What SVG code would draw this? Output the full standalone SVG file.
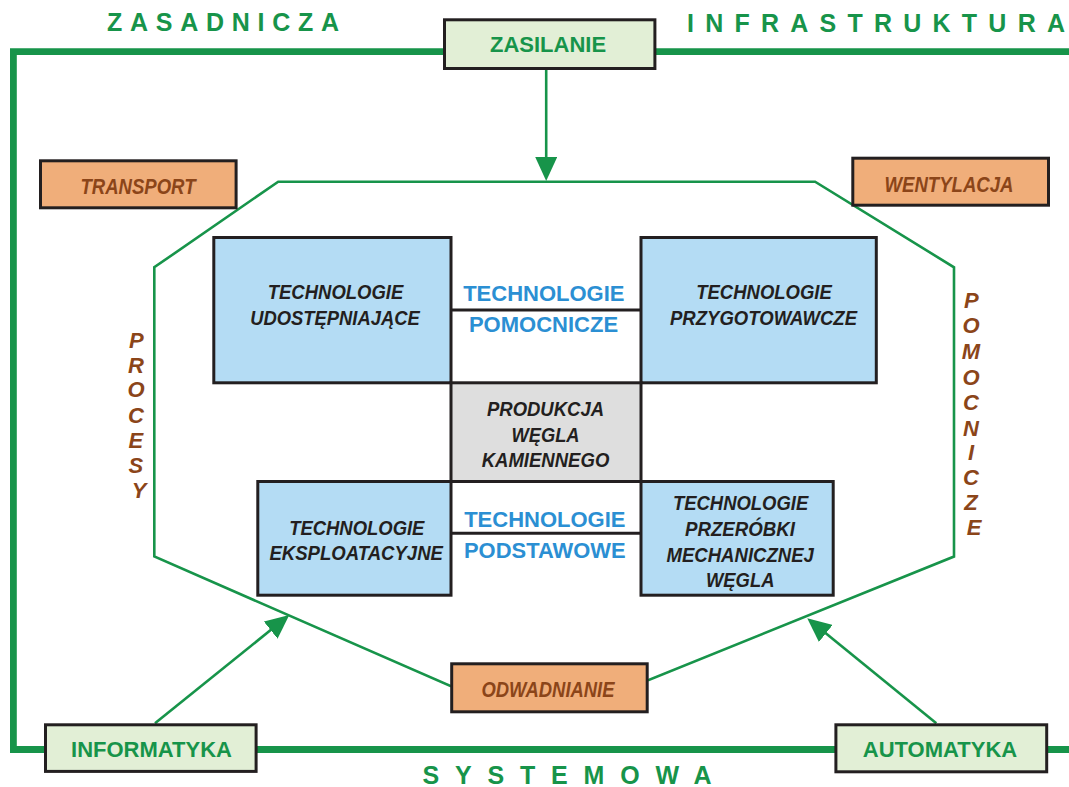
<svg xmlns="http://www.w3.org/2000/svg" width="1069" height="787" viewBox="0 0 1069 787">
  <style>
    .frame { fill: none; stroke: #17944a; stroke-width: 6.8; }
    .oct { fill: none; stroke: #17944a; stroke-width: 2.6; stroke-linejoin: miter; }
    .arrow { fill: none; stroke: #17944a; stroke-width: 2.6; }
    .box { stroke: #231f20; stroke-width: 3; }
    .green { fill: #e2efd6; }
    .orange { fill: #f0ae7a; }
    .blue { fill: #b4dcf4; }
    .grey { fill: #dedede; }
    .link { stroke: #231f20; stroke-width: 3; }
    text { font-family: "Liberation Sans", Arial, sans-serif; font-weight: bold; }
    .spaced { fill: #17944a; font-size: 25px; }
    .glab { fill: #17944a; font-size: 22px; text-anchor: middle; }
    .olab { fill: #8b4519; font-size: 22px; font-style: italic; text-anchor: middle; }
    .tlab { fill: #231f20; font-size: 20.5px; font-style: italic; text-anchor: middle; }
    .blab { fill: #2b8fd3; font-size: 22px; text-anchor: middle; }
    .vlab { fill: #8b4519; font-size: 22px; font-style: italic; text-anchor: middle; }
  </style>
  <defs>
    <marker id="head" viewBox="0 0 24 22" refX="10" refY="11" markerWidth="24" markerHeight="22" markerUnits="userSpaceOnUse" orient="auto">
      <path d="M0,0 L24,11 L0,22 Z" fill="#17944a"/>
    </marker>
  </defs>

  <rect width="1069" height="787" fill="#ffffff"/>

  <!-- infrastructure frame -->
  <path class="frame" d="M1069,51.7 H13.4 V749.5 H1069"/>
  <text class="spaced" x="107" y="31" textLength="232" lengthAdjust="spacing">ZASADNICZA</text>
  <text class="spaced" x="687" y="32" textLength="378" lengthAdjust="spacing">INFRASTRUKTURA</text>
  <text class="spaced" x="422.5" y="784" textLength="289" lengthAdjust="spacing">SYSTEMOWA</text>

  <!-- auxiliary processes outline -->
  <polygon class="oct" points="278.2,181.7 815.1,181.7 954,267.3 954,556.5 648.8,680 450.4,686 154.3,556.5 154.3,267.3"/>
  <text class="vlab">
    <tspan x="139" y="348.3">P</tspan>
    <tspan x="139" y="372.7">R</tspan>
    <tspan x="139" y="397">O</tspan>
    <tspan x="139" y="422.7">C</tspan>
    <tspan x="139" y="447.7">E</tspan>
    <tspan x="139" y="473.3">S</tspan>
    <tspan x="139" y="498.3">Y</tspan>
  </text>
  <text class="vlab">
    <tspan x="974" y="308.3">P</tspan>
    <tspan x="974" y="333">O</tspan>
    <tspan x="974" y="359">M</tspan>
    <tspan x="974" y="385">O</tspan>
    <tspan x="974" y="410">C</tspan>
    <tspan x="974" y="435.7">N</tspan>
    <tspan x="974" y="459.5">I</tspan>
    <tspan x="974" y="485">C</tspan>
    <tspan x="974" y="510">Z</tspan>
    <tspan x="974" y="535">E</tspan>
  </text>

  <!-- connectors -->
  <g id="connectors">
    <line class="arrow" x1="546.2" y1="70" x2="546.2" y2="167" marker-end="url(#head)"/>
    <line class="arrow" x1="155" y1="723.3" x2="278.4" y2="623.8" marker-end="url(#head)"/>
    <line class="arrow" x1="936.3" y1="723.3" x2="818.1" y2="627.1" marker-end="url(#head)"/>
    <line class="link" x1="451" y1="310" x2="641" y2="310"/>
    <line class="link" x1="451" y1="533.3" x2="641" y2="533.3"/>
  </g>

  <!-- infrastructure nodes -->
  <g id="zasilanie">
    <rect class="box green" x="444.5" y="19.8" width="210.4" height="48.7"/>
    <text class="glab" x="548" y="52.3">ZASILANIE</text>
  </g>
  <g id="informatyka">
    <rect class="box green" x="45.5" y="724.8" width="210.6" height="46.6"/>
    <text class="glab" x="151.5" y="756.7">INFORMATYKA</text>
  </g>
  <g id="automatyka">
    <rect class="box green" x="835.9" y="724.8" width="210.8" height="47"/>
    <text class="glab" x="940" y="756.7">AUTOMATYKA</text>
  </g>

  <!-- auxiliary process nodes -->
  <g id="transport">
    <rect class="box orange" x="40.5" y="160.8" width="195.6" height="47"/>
    <text class="olab" x="138" y="193.5" textLength="115" lengthAdjust="spacingAndGlyphs">TRANSPORT</text>
  </g>
  <g id="wentylacja">
    <rect class="box orange" x="852.8" y="158.2" width="195.7" height="47"/>
    <text class="olab" x="949" y="191.7" textLength="129" lengthAdjust="spacingAndGlyphs">WENTYLACJA</text>
  </g>
  <g id="odwadnianie">
    <rect class="box orange" x="451.7" y="663.8" width="195.5" height="48"/>
    <text class="olab" x="548" y="696.7" textLength="133" lengthAdjust="spacingAndGlyphs">ODWADNIANIE</text>
  </g>

  <!-- technology nodes -->
  <g id="udostepniajace">
    <rect class="box blue" x="213.8" y="237.5" width="237.2" height="145.3"/>
    <text class="tlab" x="335.5" y="299.3" textLength="135.5" lengthAdjust="spacingAndGlyphs">TECHNOLOGIE</text>
    <text class="tlab" x="335" y="325" textLength="169.5" lengthAdjust="spacingAndGlyphs">UDOSTĘPNIAJĄCE</text>
  </g>
  <g id="przygotowawcze">
    <rect class="box blue" x="641" y="237.5" width="235.3" height="145.3"/>
    <text class="tlab" x="764" y="299.3" textLength="135.5" lengthAdjust="spacingAndGlyphs">TECHNOLOGIE</text>
    <text class="tlab" x="763.5" y="325" textLength="187" lengthAdjust="spacingAndGlyphs">PRZYGOTOWAWCZE</text>
  </g>
  <g id="produkcja">
    <rect class="box grey" x="451" y="382.8" width="190" height="98.7"/>
    <text class="tlab" x="545.5" y="415.7" textLength="117" lengthAdjust="spacingAndGlyphs">PRODUKCJA</text>
    <text class="tlab" x="545.5" y="442" textLength="68" lengthAdjust="spacingAndGlyphs">WĘGLA</text>
    <text class="tlab" x="545.5" y="467.3" textLength="127.6" lengthAdjust="spacingAndGlyphs">KAMIENNEGO</text>
  </g>
  <g id="eksploatacyjne">
    <rect class="box blue" x="257.8" y="481.5" width="193.2" height="113.7"/>
    <text class="tlab" x="356.8" y="535" textLength="135.2" lengthAdjust="spacingAndGlyphs">TECHNOLOGIE</text>
    <text class="tlab" x="356.2" y="560" textLength="173.5" lengthAdjust="spacingAndGlyphs">EKSPLOATACYJNE</text>
  </g>
  <g id="przerobki">
    <rect class="box blue" x="641" y="481.5" width="192.2" height="113.7"/>
    <text class="tlab" x="740.6" y="510" textLength="135.3" lengthAdjust="spacingAndGlyphs">TECHNOLOGIE</text>
    <text class="tlab" x="740" y="536" textLength="110" lengthAdjust="spacingAndGlyphs">PRZERÓBKI</text>
    <text class="tlab" x="740.2" y="561.7" textLength="147.5" lengthAdjust="spacingAndGlyphs">MECHANICZNEJ</text>
    <text class="tlab" x="740.2" y="586.7" textLength="68.4" lengthAdjust="spacingAndGlyphs">WĘGLA</text>
  </g>

  <!-- group labels between the technology boxes -->
  <g id="pomocnicze">
    <text class="blab" x="543.8" y="300.7">TECHNOLOGIE</text>
    <text class="blab" x="543.5" y="331.7">POMOCNICZE</text>
  </g>
  <g id="podstawowe">
    <text class="blab" x="544.8" y="526.7">TECHNOLOGIE</text>
    <text class="blab" x="544.8" y="557.7" textLength="161.6" lengthAdjust="spacingAndGlyphs">PODSTAWOWE</text>
  </g>
</svg>
